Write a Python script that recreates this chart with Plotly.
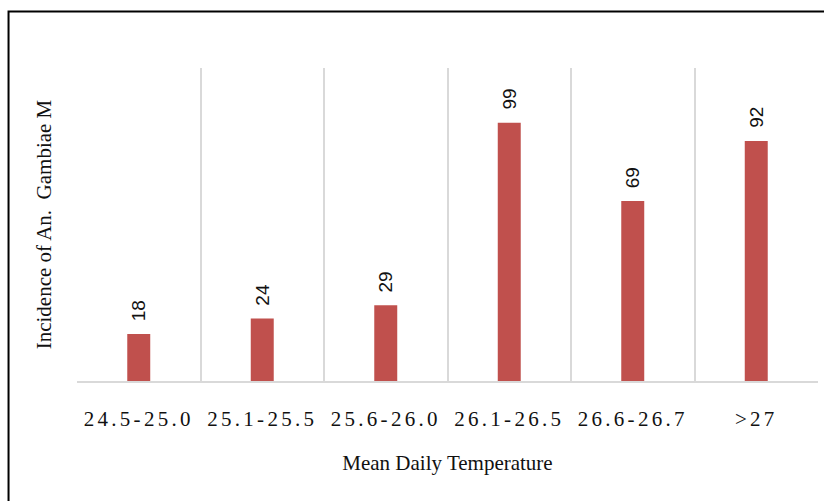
import plotly.graph_objects as go

# Mean daily temperature bands and mosquito counts
temperature_bands = ["24.5-25.0", "25.1-25.5", "25.6-26.0", "26.1-26.5", "26.6-26.7", ">27"]
incidence = [18, 24, 29, 99, 69, 92]

BAR_COLOR = "#C0504D"
GRID_COLOR = "#D9D9D9"
TEXT_COLOR = "#111111"
SERIF = "Liberation Serif, Times New Roman, serif"
SANS = "Liberation Sans, Arial, sans-serif"

fig = go.Figure(
    go.Bar(
        x=temperature_bands,
        y=incidence,
        marker=dict(color=BAR_COLOR, line=dict(width=0)),
        showlegend=False,
        hoverinfo="x+y",
    )
)

# Value labels above each bar, rotated to read bottom-to-top
for band, value in zip(temperature_bands, incidence):
    fig.add_annotation(
        x=band,
        y=value,
        text=str(value),
        textangle=-90,
        showarrow=False,
        yanchor="bottom",
        yshift=11,
        font=dict(family=SANS, size=19, color=TEXT_COLOR),
    )

# Outer frame around the chart
fig.add_shape(
    type="rect",
    xref="paper",
    yref="paper",
    x0=-0.0924,
    x1=1.05,
    y0=-0.5,
    y1=1.1805,
    line=dict(color="#000000", width=2),
    fillcolor="rgba(0,0,0,0)",
    layer="above",
)

fig.update_layout(
    width=824,
    height=501,
    margin=dict(l=77, r=6, t=68, b=120),
    paper_bgcolor="#FFFFFF",
    plot_bgcolor="#FFFFFF",
    bargap=0.814,
    font=dict(family=SERIF, color=TEXT_COLOR),
    xaxis=dict(
        type="category",
        tickson="boundaries",
        showgrid=True,
        gridcolor=GRID_COLOR,
        gridwidth=1.5,
        showline=True,
        linecolor=GRID_COLOR,
        linewidth=1.5,
        ticks="",
        tickfont=dict(family=SERIF, size=21, color=TEXT_COLOR),
        ticklabelstandoff=18,
        title=dict(
            text="Mean Daily Temperature",
            font=dict(family=SERIF, size=21, color=TEXT_COLOR),
            standoff=25,
        ),
        range=[-0.5, 5.5],
        fixedrange=True,
    ),
    yaxis=dict(
        range=[0, 120],
        showgrid=False,
        zeroline=False,
        showline=False,
        showticklabels=False,
        ticks="",
        title=dict(
            text="Incidence of An.  Gambiae M",
            font=dict(family=SERIF, size=21, color=TEXT_COLOR),
            standoff=18,
        ),
        fixedrange=True,
    ),
)

# Widen the spacing of the category labels
letter_spacing_js = """
var st = document.createElement('style');
st.innerHTML = '.xtick text { letter-spacing: 3.3px; }';
document.head.appendChild(st);
"""

fig.write_html("out.html", post_script=letter_spacing_js)
